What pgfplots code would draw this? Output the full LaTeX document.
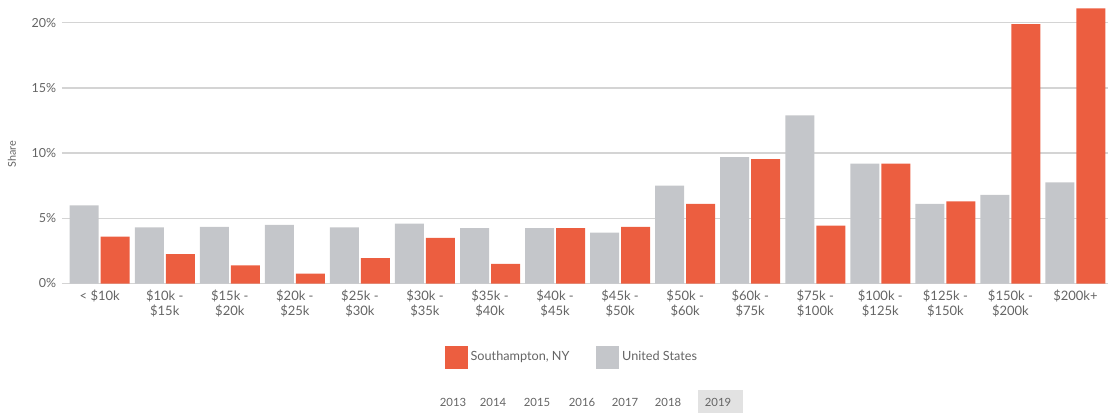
\documentclass[border=0pt]{standalone}
\usepackage{pgfplots}
\pgfplotsset{compat=1.18}
\usepackage{fontspec}
\setmainfont{Lato}
\definecolor{shorange}{RGB}{236,94,64}
\definecolor{usgray}{RGB}{196,198,202}
\definecolor{txtgray}{RGB}{100,100,100}
\definecolor{gridgray}{RGB}{212,212,212}
\definecolor{yearbox}{RGB}{226,226,226}

\begin{document}
\begin{tikzpicture}[x=0.6pt,y=0.6pt]
% picture frame in reference pixels, origin at the axis' lower left corner
\path[use as bounding box] (-62,-129.5) rectangle (1050,283.5);
\begin{axis}[
  at={(0,0)}, anchor=south west,
  scale only axis,
  width=627.6pt, height=170.1pt,
  xmin=-0.58, xmax=15.5,
  ymin=0, ymax=21.75,
  xtick={0,...,15},
  xticklabels={{< \$10k},{\$10k -\\\$15k},{\$15k -\\\$20k},{\$20k -\\\$25k},{\$25k -\\\$30k},{\$30k -\\\$35k},{\$35k -\\\$40k},{\$40k -\\\$45k},{\$45k -\\\$50k},{\$50k -\\\$60k},{\$60k -\\\$75k},{\$75k -\\\$100k},{\$100k -\\\$125k},{\$125k -\\\$150k},{\$150k -\\\$200k},{\$200k+}},
  xticklabel style={align=center, font=\fontsize{7.8}{9}\selectfont, text=txtgray},
  ytick={0,5,10,15,20},
  yticklabels={0\%,5\%,10\%,15\%,20\%},
  yticklabel style={font=\fontsize{7.5}{9}\selectfont, text=txtgray},
  axis line style={draw=none},
  major tick style={draw=none},
  ymajorgrids,
  grid style={gridgray, line width=0.8pt},
  ylabel={Share},
  ylabel style={at={(axis description cs:-0.0478,0.456)}, anchor=center, font=\fontsize{6.5}{8}\selectfont, text=txtgray},
  legend columns=2,
  legend style={at={(0.488,-0.26)}, anchor=center, draw=none, fill=none,
    font=\fontsize{7.6}{10}\selectfont, text=txtgray,
    /tikz/every even column/.append style={column sep=14pt}},
]
\addlegendimage{legend image code/.code={\fill[shorange] (0pt,-6.6pt) rectangle (13.2pt,6.6pt);}}
\addlegendentry{Southampton, NY}
\addlegendimage{legend image code/.code={\fill[usgray] (0pt,-6.6pt) rectangle (13.2pt,6.6pt);}}
\addlegendentry{United States}

% United States
\addplot[ybar, bar width=17.4pt, bar shift=-9.3pt, fill=usgray, draw=none, forget plot] coordinates {
  (0,6.0) (1,4.3) (2,4.35) (3,4.5) (4,4.3) (5,4.6) (6,4.25) (7,4.25)
  (8,3.9) (9,7.5) (10,9.7) (11,12.9) (12,9.2) (13,6.1) (14,6.8) (15,7.75)
};
% Southampton, NY
\addplot[ybar, bar width=17.4pt, bar shift=9.3pt, fill=shorange, draw=none, forget plot] coordinates {
  (0,3.6) (1,2.25) (2,1.4) (3,0.75) (4,1.95) (5,3.5) (6,1.5) (7,4.25)
  (8,4.35) (9,6.1) (10,9.55) (11,4.45) (12,9.2) (13,6.3) (14,19.9) (15,21.1)
};
\end{axis}
% year selector below the legend
\fill[yearbox] (636,-129.5) rectangle (681,-106.5);
\foreach \yr/\xx in {2013/391,2014/431,2015/475,2016/520,2017/563,2018/606,2019/656}
  \node[font=\fontsize{6.8}{8}\selectfont, text=txtgray] at (\xx,-118.5) {\yr};
\end{tikzpicture}
\end{document}
